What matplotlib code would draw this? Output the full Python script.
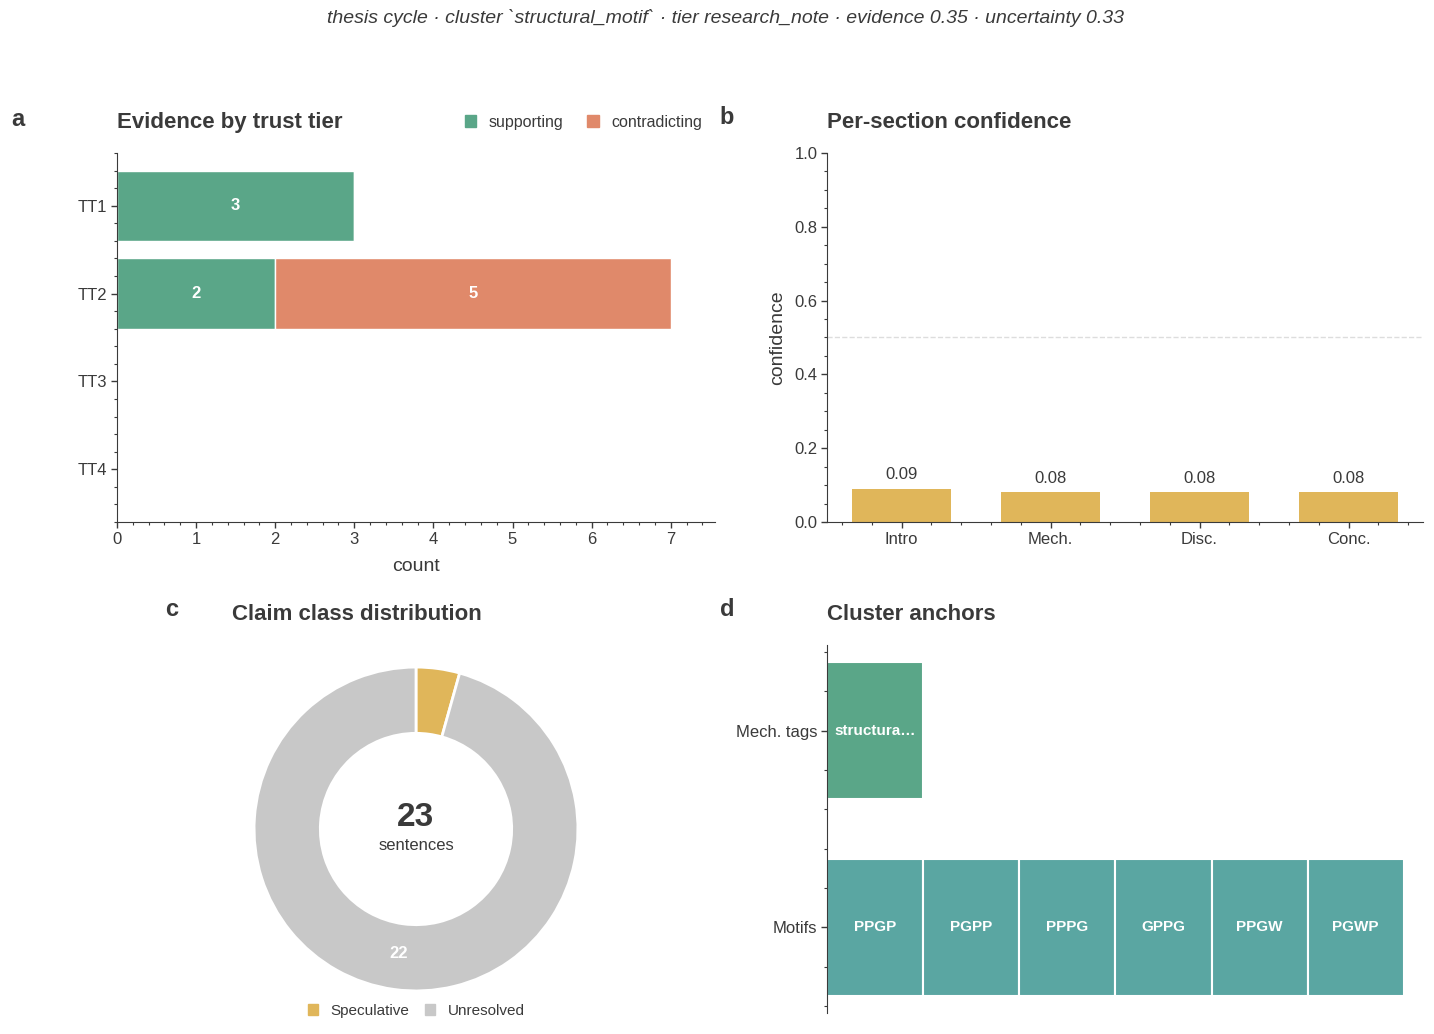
import numpy as np
import matplotlib.pyplot as plt
from matplotlib.ticker import AutoMinorLocator
from matplotlib.patches import Patch

plt.rcParams['font.family'] = ['Liberation Sans', 'DejaVu Sans']
plt.rcParams['text.color'] = '#3a3a3a'
plt.rcParams['axes.labelcolor'] = '#3a3a3a'
plt.rcParams['xtick.color'] = '#3a3a3a'
plt.rcParams['ytick.color'] = '#3a3a3a'
plt.rcParams['axes.edgecolor'] = '#3a3a3a'

# ---- data ----
tiers = ['TT1', 'TT2', 'TT3', 'TT4']
supporting = [3, 2, 0, 0]
contradicting = [0, 5, 0, 0]

sections = ['Intro', 'Mech.', 'Disc.', 'Conc.']
confidence = [0.09, 0.08, 0.08, 0.08]

claim_classes = ['Speculative', 'Unresolved']
claim_counts = [1, 22]

anchor_rows = ['Mech. tags', 'Motifs']
mech_tags = ['structural_motif']
motifs = ['PPGP', 'PGPP', 'PPPG', 'GPPG', 'PPGW', 'PGWP']

suptitle = "thesis cycle · cluster `structural_motif` · tier research_note · evidence 0.35 · uncertainty 0.33"

GREEN = '#5aa688'
ORANGE = '#e0896a'
GOLD = '#e0b65a'
GRAY = '#c8c8c8'
TEAL = '#5aa6a2'

W, H = 1434, 1034
fig = plt.figure(figsize=(W / 100, H / 100), dpi=100)


def box(l, t, r, b):
    return [l / W, (H - b) / H, (r - l) / W, (b - t) / H]


def style(ax):
    for s in ['top', 'right']:
        ax.spines[s].set_visible(False)
    ax.tick_params(which='major', length=4.5, width=1, labelsize=12, pad=2.5)
    ax.tick_params(which='minor', length=2.5, width=0.8)


TITLE_PAD = 18

# ---- a: evidence by trust tier ----
ax = fig.add_axes(box(117, 153, 715, 522))
style(ax)
y = np.arange(len(tiers))
ax.barh(y, supporting, height=0.8, color=GREEN, edgecolor='white', linewidth=1)
ax.barh(y, contradicting, left=supporting, height=0.8, color=ORANGE,
        edgecolor='white', linewidth=1)
for i in range(len(tiers)):
    if supporting[i] > 0:
        ax.text(supporting[i] / 2, i, str(supporting[i]), ha='center', va='center',
                color='white', fontweight='bold', fontsize=12)
    if contradicting[i] > 0:
        ax.text(supporting[i] + contradicting[i] / 2, i, str(contradicting[i]),
                ha='center', va='center', color='white', fontweight='bold', fontsize=12)
ax.set_yticks(y)
ax.set_yticklabels(tiers)
ax.set_ylim(3.6, -0.6)
ax.set_xlim(0, 7.56)
ax.set_xticks(range(8))
ax.xaxis.set_minor_locator(AutoMinorLocator(5))
ax.yaxis.set_minor_locator(AutoMinorLocator(5))
ax.set_xlabel('count', fontsize=14, labelpad=8)
ax.set_title('Evidence by trust tier', loc='left', fontsize=16, fontweight='bold', pad=TITLE_PAD)
ax.legend(handles=[Patch(color=GREEN, label='supporting'), Patch(color=ORANGE, label='contradicting')],
          loc='center right', bbox_to_anchor=(0.992, 1.084), ncol=2, frameon=False,
          fontsize=11.5, handlelength=0.7, handleheight=0.7, columnspacing=1.5, borderpad=0)

# ---- b: per-section confidence ----
ax = fig.add_axes(box(827, 153, 1423, 522))
style(ax)
x = np.arange(len(sections))
ax.bar(x, confidence, width=0.66, color=GOLD)
for xi, v in zip(x, confidence):
    ax.annotate(f'{v:.2f}', (xi, v), xytext=(0, 5), textcoords='offset points',
                ha='center', va='bottom', fontsize=12)
ax.axhline(0.5, color='#dddddd', linestyle='--', linewidth=1, zorder=0)
ax.set_xticks(x)
ax.set_xticklabels(sections)
ax.set_xlim(-0.5, 3.5)
ax.set_ylim(0, 1)
ax.set_yticks(np.arange(0, 1.01, 0.2))
ax.xaxis.set_minor_locator(AutoMinorLocator(5))
ax.yaxis.set_minor_locator(AutoMinorLocator(4))
ax.set_ylabel('confidence', fontsize=14, labelpad=6)
ax.set_title('Per-section confidence', loc='left', fontsize=16, fontweight='bold', pad=TITLE_PAD)

# ---- c: claim class donut ----
ax = fig.add_axes(box(232, 645, 600, 1013))
wedges, _ = ax.pie(claim_counts, colors=[GOLD, GRAY], startangle=90, counterclock=False,
                   radius=1.1, wedgeprops=dict(width=0.45, edgecolor='white', linewidth=2))
ax.set_aspect('equal')
total = sum(claim_counts)
for w, v in zip(wedges, claim_counts):
    if v / total > 0.08:
        ang = np.deg2rad((w.theta1 + w.theta2) / 2)
        r = 1.1 - 0.45 / 2
        ax.text(r * np.cos(ang), r * np.sin(ang) + 0.02, str(v), ha='center', va='center',
                color='white', fontweight='bold', fontsize=12)
ax.text(0, 0.08, str(total), ha='center', va='center', fontsize=24, fontweight='bold')
ax.text(0, -0.11, 'sentences', ha='center', va='center', fontsize=12)
ax.set_title('Claim class distribution', loc='left', fontsize=16, fontweight='bold', pad=TITLE_PAD)
ax.legend(handles=[Patch(color=c, label=l) for c, l in zip([GOLD, GRAY], claim_classes)],
          loc='center', bbox_to_anchor=(0.5, 0.005), ncol=2, frameon=False, fontsize=11,
          handlelength=0.7, handleheight=0.7, columnspacing=1.0)

# ---- d: cluster anchors ----
ax = fig.add_axes(box(827, 645, 1423, 1013))
style(ax)
ax.spines['bottom'].set_visible(False)
rows = [mech_tags, motifs]
row_colors = [GREEN, TEAL]
for i, (items, col) in enumerate(zip(rows, row_colors)):
    ax.barh([i] * len(items), [1] * len(items), left=np.arange(len(items)), height=0.7,
            color=col, edgecolor='white', linewidth=1.5)
    for j, lab in enumerate(items):
        txt = lab if len(lab) <= 9 else lab[:9] + '…'
        ax.text(j + 0.5, i, txt, ha='center', va='center', color='white',
                fontweight='bold', fontsize=11)
ax.set_yticks(range(len(anchor_rows)))
ax.set_yticklabels(anchor_rows)
ax.set_ylim(1.435, -0.435)
ax.set_xlim(0, 6.2)
ax.set_xticks([])
ax.yaxis.set_minor_locator(AutoMinorLocator(5))
ax.set_title('Cluster anchors', loc='left', fontsize=16, fontweight='bold', pad=TITLE_PAD)

# ---- panel letters and suptitle ----
for lab, px, py in [('a', 18, 119), ('b', 727, 118), ('c', 172, 609), ('d', 727, 609)]:
    fig.text(px / W, 1 - py / H, lab, fontsize=17, fontweight='bold', ha='center', va='center')
fig.text(0.506, 1 - 18 / H, suptitle, ha='center', va='center', fontsize=14, style='italic')

fig.savefig('out.png', dpi=100)
